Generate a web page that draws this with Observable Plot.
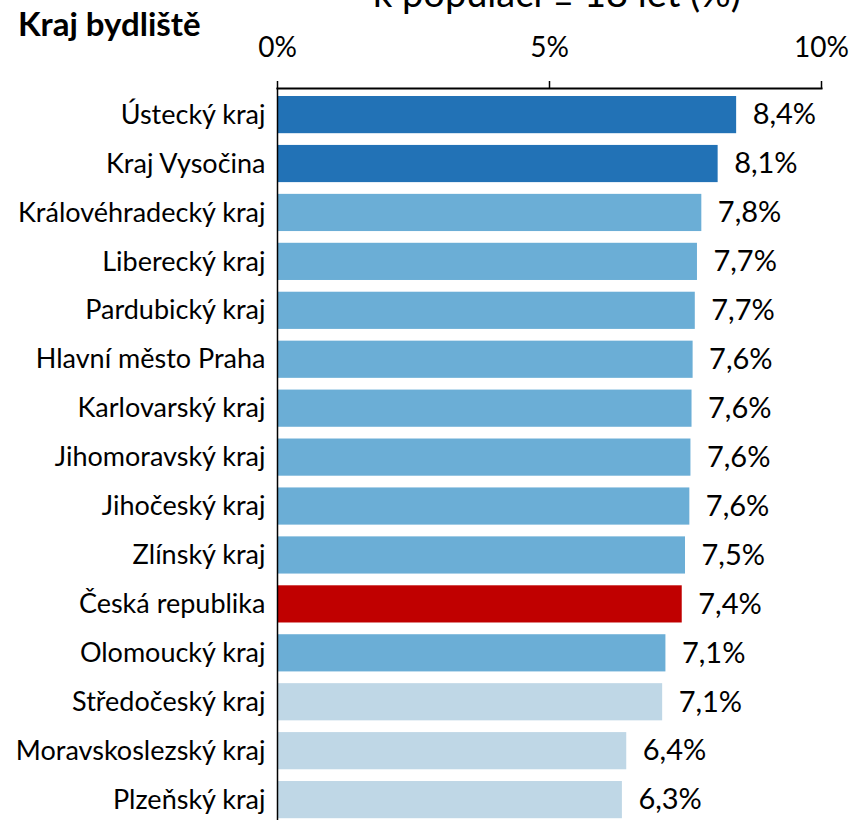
<!DOCTYPE html>
<html>
<head>
<meta charset="utf-8">
<script src="https://cdn.jsdelivr.net/npm/d3@7"></script>
<script src="https://cdn.jsdelivr.net/npm/@observablehq/plot@0.6"></script>
<style>
  html, body { margin: 0; padding: 0; background: #fff; overflow: hidden; }
  #wrap { position: relative; width: 853px; height: 820px; }
  #title { position: absolute; left: 373px; top: -27px; line-height: 1;
           font-family: Lato, sans-serif; font-size: 38px; color: #000; white-space: nowrap; }
  #ytitle { position: absolute; left: 18px; top: 7px; line-height: 1; font-family: Lato, sans-serif; font-weight: bold; font-size: 33px; color: #000; }
  svg { position: absolute; left: 0; top: 0; }
</style>
</head>
<body>
<div id="wrap">
  <div id="chart"></div>
  <div id="title">k populaci ≥ 18 let (%)</div>
  <div id="ytitle">Kraj bydliště</div>
</div>
<script>
const regions = ["Ústecký kraj", "Kraj Vysočina", "Královéhradecký kraj", "Liberecký kraj", "Pardubický kraj",
  "Hlavní město Praha", "Karlovarský kraj", "Jihomoravský kraj", "Jihočeský kraj", "Zlínský kraj",
  "Česká republika", "Olomoucký kraj", "Středočeský kraj", "Moravskoslezský kraj", "Plzeňský kraj"];
const shares = [8.44, 8.1, 7.8, 7.72, 7.68, 7.64, 7.62, 7.6, 7.58, 7.5, 7.44, 7.14, 7.08, 6.42, 6.34];
const groups = ["high", "high", "mid", "mid", "mid", "mid", "mid", "mid", "mid", "mid", "cr", "mid", "low", "low", "low"];
const xTicks = [0, 5, 10];

const data = regions.map((r, i) => ({region: r, share: shares[i], group: groups[i]}));
const fmt = v => v.toFixed(1).replace(".", ",") + "%";

const chart = Plot.plot({
  width: 853,
  height: 820,
  marginLeft: 277,
  marginRight: 32,
  marginTop: 88,
  marginBottom: 0,
  style: {fontFamily: "Lato, sans-serif", color: "#000", background: "#fff"},
  x: {domain: [0, 10], axis: null},
  y: {domain: regions, range: [96, 96 + 48.93 * (15 - 0.24)], paddingInner: 0.24, paddingOuter: 0, align: 0, round: false, axis: null},
  color: {domain: ["high", "mid", "cr", "low"], range: ["#2272b6", "#6baed6", "#c00000", "#bfd7e6"]},
  marks: [
    Plot.barX(data, {x: "share", y: "region", fill: "group"}),
    Plot.text(data, {x: "share", y: "region", text: d => fmt(d.share), textAnchor: "start", dx: 16, fontSize: 29}),
    Plot.axisX({anchor: "top", ticks: xTicks, tickFormat: d => d + "%", tickSize: 8, tickPadding: 24, fontSize: 28, label: null, stroke: "#000", strokeWidth: 1.5}),
    Plot.axisY({tickSize: 0, tickPadding: 12, fontSize: 27, label: null}),
    Plot.frame({anchor: "top", stroke: "#000", strokeWidth: 2}),
    Plot.ruleX([0], {stroke: "#000", strokeWidth: 1.5})
  ]
});
document.getElementById("chart").appendChild(chart);
</script>
</body>
</html>
